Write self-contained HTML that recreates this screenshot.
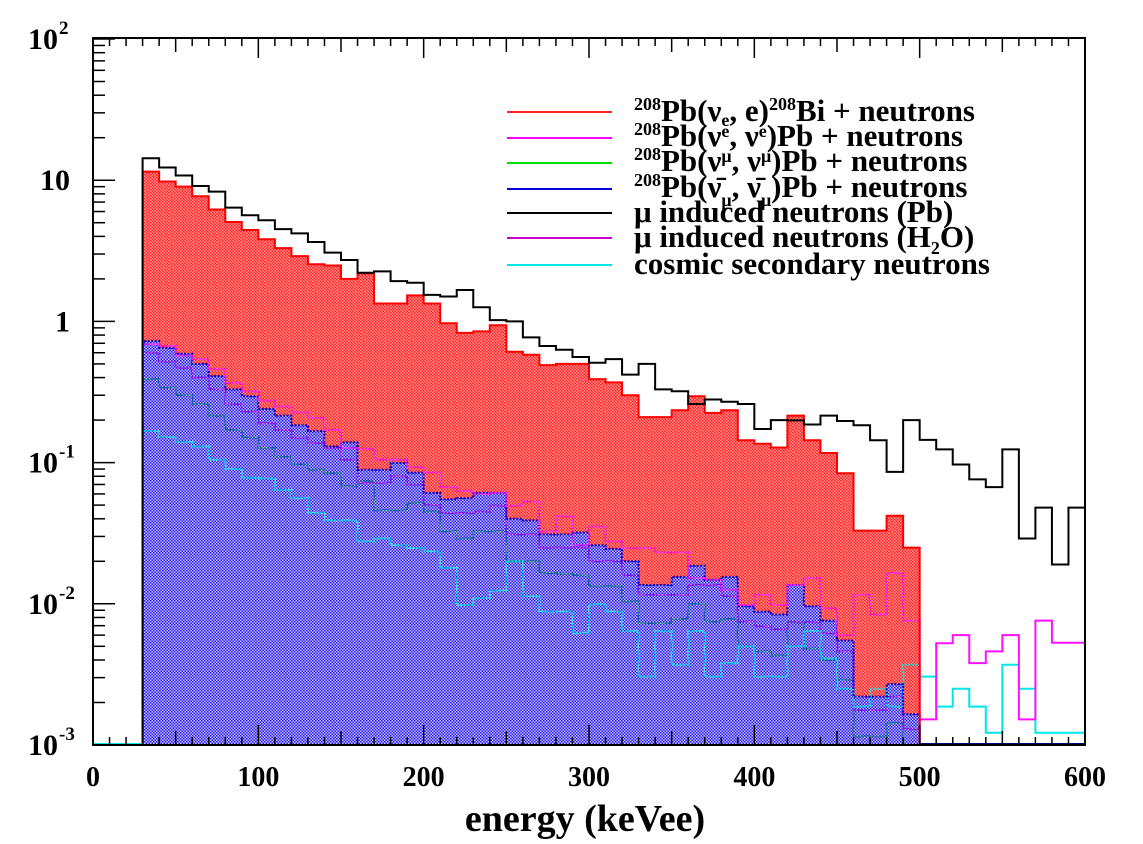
<!DOCTYPE html>
<html><head><meta charset="utf-8"><style>
html,body{margin:0;padding:0;background:#fff;}
svg{display:block;font-family:"Liberation Serif",serif;font-weight:bold;}
</style></head><body>
<svg id="chart" width="1143" height="844" viewBox="0 0 1143 844" xmlns="http://www.w3.org/2000/svg">
<defs>
<pattern id="redHatch" width="3" height="3" patternUnits="userSpaceOnUse">
<rect x="0" y="0" width="1.5" height="1.5" fill="#ff1a1a"/><rect x="1.5" y="1.5" width="1.5" height="1.5" fill="#ff1a1a"/>
<rect x="1.5" y="0" width="1.5" height="1.5" fill="#ff1a1a" opacity="0.45"/><rect x="0" y="1.5" width="1.5" height="1.5" fill="#ff1a1a" opacity="0.45"/>
</pattern>
<pattern id="blueHatch" width="3" height="3" patternUnits="userSpaceOnUse">
<rect x="0" y="0" width="1.5" height="1.5" fill="#1a1aff"/><rect x="1.5" y="1.5" width="1.5" height="1.5" fill="#1a1aff"/>
<rect x="1.5" y="0" width="1.5" height="1.5" fill="#c8c8ff" opacity="0.8"/><rect x="0" y="1.5" width="1.5" height="1.5" fill="#c8c8ff" opacity="0.8"/>
</pattern>
<clipPath id="plotClip"><rect x="93" y="38" width="992" height="707"/></clipPath>
<clipPath id="leftClip"><rect x="93" y="38" width="826" height="707"/></clipPath>
<clipPath id="rightClip"><rect x="919.5" y="38" width="166" height="707"/></clipPath>
</defs>
<g id="series" clip-path="url(#plotClip)"></g>
<g id="axes"></g>
<g id="legend">
<line x1="507" y1="112" x2="612" y2="112" stroke="#ff2020" stroke-width="2"/>
<line x1="507" y1="138" x2="612" y2="138" stroke="#ff00ff" stroke-width="2"/>
<line x1="507" y1="163" x2="612" y2="163" stroke="#00dd00" stroke-width="2"/>
<line x1="507" y1="189" x2="612" y2="189" stroke="#0000dd" stroke-width="2"/>
<line x1="507" y1="213" x2="612" y2="213" stroke="#000" stroke-width="2"/>
<line x1="507" y1="238" x2="612" y2="238" stroke="#cc00cc" stroke-width="2"/>
<line x1="507" y1="265" x2="612" y2="265" stroke="#00e5e5" stroke-width="2"/>
<g font-size="31">
<text x="634" y="121"><tspan font-size="18" dy="-11">208</tspan><tspan dy="11">Pb(ν</tspan><tspan font-size="18" dy="5">e</tspan><tspan dy="-5">, e)</tspan><tspan font-size="18" dy="-11">208</tspan><tspan dy="11">Bi + neutrons</tspan></text>
<text x="634" y="146"><tspan font-size="18" dy="-11">208</tspan><tspan dy="11">Pb(ν</tspan><tspan font-size="18" dy="-9">e</tspan><tspan dy="9">, ν</tspan><tspan font-size="18" dy="-9">e</tspan><tspan dy="9">)Pb + neutrons</tspan></text>
<text x="634" y="171"><tspan font-size="18" dy="-11">208</tspan><tspan dy="11">Pb(ν</tspan><tspan font-size="18" dy="-9">μ</tspan><tspan dy="9">, ν</tspan><tspan font-size="18" dy="-9">μ</tspan><tspan dy="9">)Pb + neutrons</tspan></text>
<text x="634" y="197"><tspan font-size="18" dy="-11">208</tspan><tspan dy="11">Pb(ν̄</tspan><tspan font-size="18" dy="9">μ</tspan><tspan dy="-9">, ν̄</tspan><tspan font-size="18" dy="9">μ</tspan><tspan dy="-9">)Pb + neutrons</tspan></text>
<text x="634" y="222">μ induced neutrons (Pb)</text>
<text x="634" y="247">μ induced neutrons (H<tspan font-size="18" dy="7">2</tspan><tspan dy="-7">O)</tspan></text>
<text x="634" y="274">cosmic secondary neutrons</text>
</g>
</g>
<text x="585" y="831" font-size="38" text-anchor="middle">energy (keVee)</text>
</svg>
<script>
// bins are 10 keVee wide, starting at 30 keVee
const binStart = 30;
const binWidth = 10;
const muPb = [14.3,12.3,10.8,9.1,8.3,6.4,5.65,5.2,4.5,4.2,3.65,3.07,2.72,2.21,2.26,1.93,1.88,1.54,1.50,1.67,1.26,1.02,1.0,0.77,0.67,0.63,0.56,0.51,0.54,0.42,0.50,0.33,0.32,0.26,0.28,0.27,0.26,0.173,0.20,0.199,0.186,0.215,0.197,0.184,0.144,0.086,0.20,0.145,0.124,0.097,0.076,0.067,0.124,0.029,0.048,0.019,0.048];
const nuECC = [11.5,9.8,9.0,7.7,6.2,5.06,4.44,3.82,3.3,2.9,2.54,2.49,2.0,2.19,1.34,1.34,1.53,1.34,0.97,0.83,0.85,0.94,0.61,0.58,0.49,0.50,0.50,0.39,0.37,0.30,0.21,0.21,0.235,0.295,0.225,0.235,0.144,0.136,0.128,0.215,0.144,0.117,0.084,0.033,0.033,0.042,0.025];
const nuMuBarNC = [0.725,0.65,0.59,0.50,0.41,0.33,0.295,0.24,0.215,0.184,0.167,0.13,0.139,0.089,0.089,0.0995,0.085,0.061,0.055,0.056,0.061,0.061,0.040,0.039,0.031,0.031,0.032,0.026,0.0245,0.020,0.0136,0.0136,0.0155,0.0186,0.0148,0.0155,0.0096,0.0088,0.0084,0.0136,0.0096,0.0076,0.0055,0.0022,0.0022,0.0027,0.00165];
const muH2O = [0.687,0.67,0.574,0.54,0.46,0.367,0.32,0.275,0.25,0.227,0.207,0.17,0.127,0.125,0.105,0.105,0.093,0.085,0.067,0.063,0.060,0.061,0.0496,0.053,0.0326,0.0416,0.026,0.0353,0.0277,0.0248,0.0248,0.0231,0.0231,0.0152,0.0148,0.0126,0.0098,0.0116,0.0098,0.0136,0.0152,0.0093,0.006,0.0116,0.0084,0.0165,0.0076,0.00152,0.00526,0.006,0.0038,0.0046,0.006,0.00152,0.0076,0.0053,0.0053];
const nuENC = [0.60,0.52,0.47,0.40,0.33,0.258,0.23,0.19,0.17,0.15,0.138,0.127,0.105,0.072,0.072,0.08,0.070,0.050,0.044,0.044,0.045,0.0496,0.031,0.031,0.025,0.025,0.025,0.020,0.020,0.0159,0.0116,0.0116,0.0116,0.0136,0.0136,0.0113,0.0075,0.0069,0.0066,0.0074,0.0074,0.0062,0.0046,0.00177,0.00177,0.0022,0.0013];
const nuMuNC = [0.39,0.34,0.30,0.26,0.215,0.17,0.15,0.127,0.11,0.097,0.089,0.084,0.068,0.074,0.046,0.046,0.052,0.045,0.0326,0.029,0.0326,0.0326,0.020,0.020,0.0165,0.0163,0.0159,0.0133,0.0133,0.0104,0.0073,0.0073,0.0078,0.010,0.0075,0.0078,0.005,0.0046,0.0043,0.0074,0.0048,0.004,0.0029,0.00115,0.00115,0.00143,0.001];
const cosmic = [0.167,0.152,0.14,0.13,0.105,0.090,0.078,0.077,0.064,0.056,0.044,0.039,0.039,0.0277,0.029,0.026,0.0248,0.0235,0.018,0.0098,0.011,0.0124,0.020,0.0113,0.0088,0.0088,0.0062,0.0099,0.0088,0.0064,0.00305,0.0064,0.0037,0.0064,0.00305,0.0038,0.005,0.00305,0.00305,0.005,0.0064,0.0041,0.0025,0.00187,0.0025,0.00187,0.0037,0.00305,0.00187,0.0025,0.00187,0.00122,0.0037,0.0025,0.00122,0.00122,0.00122];
const xTicks = [0,100,200,300,400,500,600];
const yDecades = [-3,-2,-1,0,1,2];
const yLabels = ["10","10","10","1","10","10"];
const yExps = ["-3","-2","-1","","","2"];

const NS = "http://www.w3.org/2000/svg";
const X0 = 93, X1 = 1085, XMAX = 600;
const YB = 745, DEC = 141.2, YMIN_LOG = -3;
function xs(e){ return X0 + e/XMAX*(X1-X0); }
function ys(v){ const l = Math.log10(Math.max(v, 1e-3)); return YB - (l - YMIN_LOG)*DEC; }
function mk(tag, attrs, parent){ const el = document.createElementNS(NS, tag); for (const k in attrs) el.setAttribute(k, attrs[k]); parent.appendChild(el); return el; }
function stepPath(vals){
  let d = "M" + xs(0) + "," + YB + " L" + xs(binStart) + "," + YB;
  vals.forEach((v, i) => {
    const e0 = binStart + i*binWidth, e1 = e0 + binWidth;
    const y = ys(v);
    d += " L" + xs(e0) + "," + y + " L" + xs(e1) + "," + y;
  });
  const eEnd = binStart + vals.length*binWidth;
  d += " L" + xs(eEnd) + "," + YB + " L" + xs(XMAX) + "," + YB;
  return d;
}
const gS = document.getElementById("series");
function line(vals, color, name, dotted){
  if (dotted){
    const p = mk("path", {d: stepPath(vals), fill: "none", stroke: color, "stroke-width": 2, "stroke-dasharray": "2,1.5", "clip-path": "url(#leftClip)"}, gS);
    
    
    const q = mk("path", {d: stepPath(vals), fill: "none", stroke: color, "stroke-width": 2, "clip-path": "url(#rightClip)"}, gS);
    
    
  } else {
    const p = mk("path", {d: stepPath(vals), fill: "none", stroke: color, "stroke-width": 2}, gS);
    
    
  }
}
function fill(vals, pat, name){
  const p = mk("path", {d: stepPath(vals) + " Z", fill: "url(#" + pat + ")", stroke: "none"}, gS);
  
  
}
fill(nuECC, "redHatch", "nu-e-cc-fill");
fill(nuMuBarNC, "blueHatch", "nu-mu-bar-nc-fill");
line(nuMuNC, "#107878", "nu-mu-nc-line", true);
line(nuENC, "#9a10e8", "nu-e-nc-line", true);
line(cosmic, "#00e5e5", "cosmic-line", true);
line(nuMuBarNC, "#0000c0", "nu-mu-bar-nc-line", true);
line(muH2O, "#ff10ff", "mu-h2o-line", true);
line(nuECC, "#ff0000", "nu-e-cc-line", false);
line(muPb, "#000000", "mu-pb-line", false);
const base = mk("line", {x1: xs(500), y1: YB-1, x2: xs(600), y2: YB-1, stroke: "#000080", "stroke-width": 2}, gS);


const baseL = mk("line", {x1: xs(0), y1: YB-1, x2: xs(30), y2: YB-1, stroke: "#00e5e5", "stroke-width": 2}, gS);



const gA = document.getElementById("axes");
const frame = mk("rect", {x: X0, y: 38, width: X1-X0, height: YB-38, fill: "none", stroke: "#000", "stroke-width": 2}, gA);


for (let e = 0; e <= XMAX; e += 10){
  const len = e % 100 === 0 ? 20 : (e % 50 === 0 ? 14 : 8);
  mk("line", {x1: xs(e), y1: YB, x2: xs(e), y2: YB-len, stroke: "#000", "stroke-width": 1.5}, gA);
  mk("line", {x1: xs(e), y1: 38, x2: xs(e), y2: 38+len, stroke: "#000", "stroke-width": 1.5}, gA);
}
xTicks.forEach(t => {
  const tx = mk("text", {x: xs(t), y: 786, "font-size": 28, "text-anchor": "middle"}, gA);
  tx.textContent = t;
  
  
});
yDecades.forEach((d, i) => {
  const y = YB - (d - YMIN_LOG)*DEC;
  mk("line", {x1: X0, y1: y, x2: X0+22, y2: y, stroke: "#000", "stroke-width": 1.5}, gA);
  if (d < 2){
    for (let m = 2; m <= 9; m++){
      const ym = y - Math.log10(m)*DEC;
      mk("line", {x1: X0, y1: ym, x2: X0+12, y2: ym, stroke: "#000", "stroke-width": 1.5}, gA);
    }
  }
  const tx = mk("text", {x: yExps[i] ? 58 : 70, y: y+10, "font-size": 30, "text-anchor": "end"}, gA);
  tx.textContent = yLabels[i];
  
  
  if (yExps[i]){
    const sup = mk("text", {x: 59, y: y-5, "font-size": 19, "text-anchor": "start"}, gA);
    sup.textContent = yExps[i];
    
    
  }
});
</script>
</body></html>
